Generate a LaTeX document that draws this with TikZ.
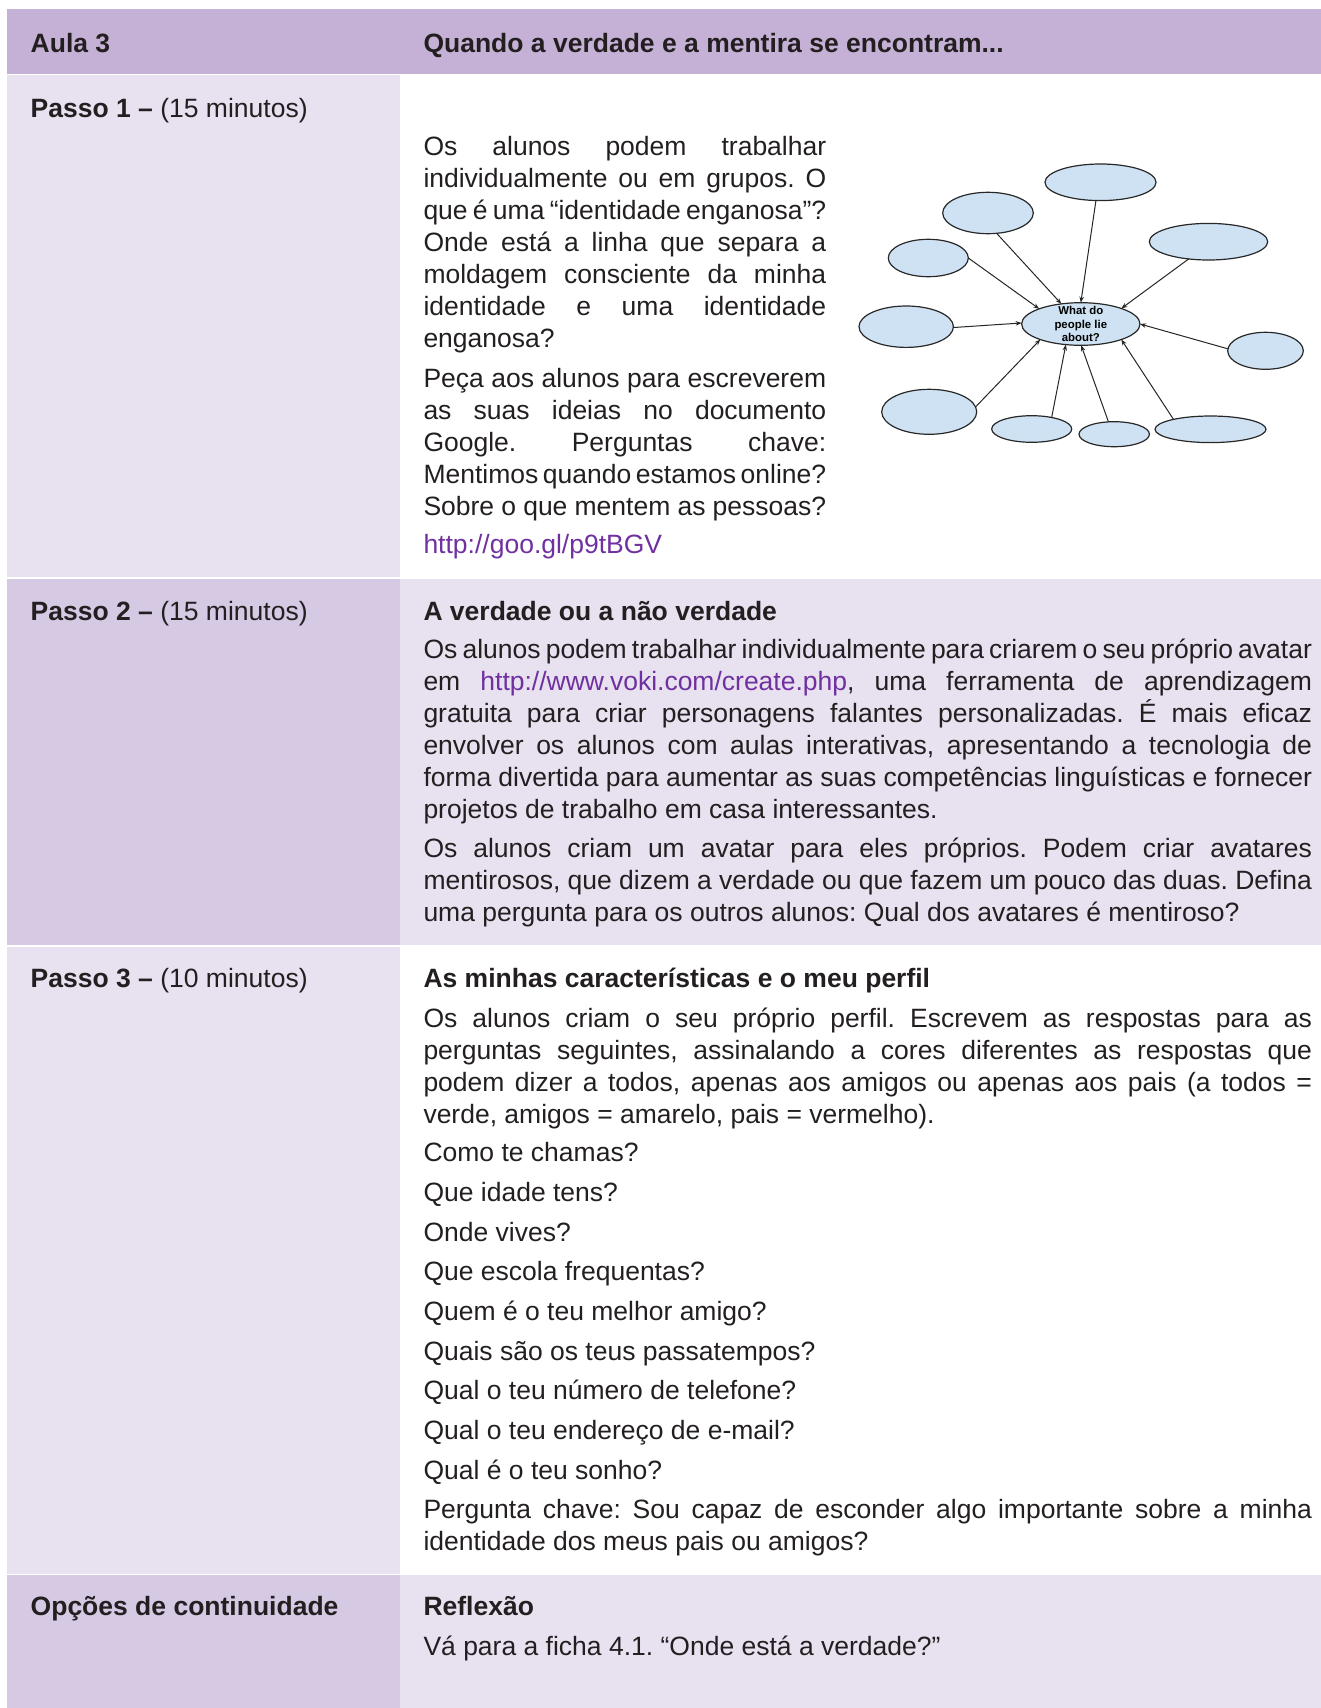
\documentclass[tikz,border=0pt]{standalone}
\usepackage{fontspec}
\setmainfont{Liberation Sans}[WordSpace={1,1,1.7}]
\usetikzlibrary{shapes.geometric,arrows.meta}
\definecolor{hdr}{RGB}{197,177,213}
\definecolor{darkcell}{RGB}{214,201,227}
\definecolor{lightcell}{RGB}{231,225,240}
\definecolor{txt}{RGB}{35,31,32}
\definecolor{lnk}{RGB}{112,48,160}
\definecolor{bub}{RGB}{207,226,243}
\definecolor{bubline}{RGB}{40,40,40}
\newcommand\jl[1]{\makebox[\linewidth][s]{#1}\\}
\newcommand\bodyfont{\fontsize{26.5}{32}\selectfont\frenchspacing}
\begin{document}
\begin{tikzpicture}[x=1pt,y=-1pt,
  every node/.style={inner sep=0pt,outer sep=0pt},
  txtnode/.style={anchor=base west,text=txt,font=\bodyfont},
  bubble/.style={ellipse,draw=bubline,line width=1.2pt,fill=bub},
  arr/.style={draw=black!85,line width=1pt,-{Stealth[length=6pt,width=4.5pt]}}]
\useasboundingbox (0,0) rectangle (1321,1708);
% table backgrounds
\fill[hdr] (7.3,9.3) rectangle (1321,73.5);
\fill[lightcell] (7.3,75) rectangle (400,577);
\fill[darkcell] (7.3,578.5) rectangle (400,945);
\fill[lightcell] (400,578.5) rectangle (1321,945);
\fill[lightcell] (7.3,946.5) rectangle (400,1573.5);
\fill[darkcell] (7.3,1575) rectangle (400,1708);
\fill[lightcell] (400,1575) rectangle (1321,1708);
% header
\node[txtnode] (h1) at (30.7,52.5) {\bfseries Aula 3};
\node[txtnode] (h2) at (423.5,52.5) {\bfseries Quando a verdade e a mentira se encontram...};
% left column
\node[txtnode] (l1) at (30.7,117.3) {\textbf{Passo 1 –} (15 minutos)};
\node[txtnode] (l2) at (30.7,620) {\textbf{Passo 2 –} (15 minutos)};
\node[txtnode] (l3) at (30.7,987.7) {\textbf{Passo 3 –} (10 minutos)};
\node[txtnode] (l4) at (30.7,1615) {\textbf{Opções de continuidade}};
% row 1
\node[txtnode] (p1) at (423.5,155.7) {\parbox[t]{402.7pt}{\bodyfont
\jl{Os alunos podem trabalhar}
\jl{individualmente ou em grupos. O}
\jl{que é uma “identidade enganosa”?}
\jl{Onde está a linha que separa a}
\jl{moldagem consciente da minha}
\jl{identidade e uma identidade}
enganosa?\\[8pt]
\jl{Peça aos alunos para escreverem}
\jl{as suas ideias no documento}
\jl{Google. Perguntas chave:}
\jl{Mentimos quando estamos online?}
Sobre o que mentem as pessoas?\\[6pt]
\textcolor{lnk}{http://goo.gl/p9tBGV}}};
% row 2
\node[txtnode] (p2) at (423.5,620) {\parbox[t]{888.5pt}{\bodyfont
{\bfseries A verdade ou a não verdade}\\[6pt]
\jl{Os alunos podem trabalhar individualmente para criarem o seu próprio avatar}
\jl{em \textcolor{lnk}{http://www.voki.com/create.php}, uma ferramenta de aprendizagem}
\jl{gratuita para criar personagens falantes personalizadas. É mais eficaz}
\jl{envolver os alunos com aulas interativas, apresentando a tecnologia de}
\jl{forma divertida para aumentar as suas competências linguísticas e fornecer}
projetos de trabalho em casa interessantes.\\[7pt]
\jl{Os alunos criam um avatar para eles próprios. Podem criar avatares}
\jl{mentirosos, que dizem a verdade ou que fazem um pouco das duas. Defina}
uma pergunta para os outros alunos: Qual dos avatares é mentiroso?}};
% row 3
\node[txtnode] (p3) at (423.5,987.7) {\parbox[t]{888.5pt}{\bodyfont
{\bfseries As minhas características e o meu perfil}\\[7.6pt]
\jl{Os alunos criam o seu próprio perfil. Escrevem as respostas para as}
\jl{perguntas seguintes, assinalando a cores diferentes as respostas que}
\jl{podem dizer a todos, apenas aos amigos ou apenas aos pais (a todos =}
verde, amigos = amarelo, pais = vermelho).\\[6.3pt]
Como te chamas?\\[7.7pt]
Que idade tens?\\[7.7pt]
Onde vives?\\[7.7pt]
Que escola frequentas?\\[7.7pt]
Quem é o teu melhor amigo?\\[7.7pt]
Quais são os teus passatempos?\\[7.7pt]
Qual o teu número de telefone?\\[7.7pt]
Qual o teu endereço de e-mail?\\[7.7pt]
Qual é o teu sonho?\\[7.7pt]
\jl{Pergunta chave: Sou capaz de esconder algo importante sobre a minha}
identidade dos meus pais ou amigos?}};
% row 4
\node[txtnode] (p4) at (423.5,1615) {\parbox[t]{888.5pt}{\bodyfont
{\bfseries Reflexão}\\[8pt]
Vá para a ficha 4.1. “Onde está a verdade?”}};
% diagram
\node[bubble,minimum width=111pt,minimum height=36.6pt] (e1) at (1100.5,182.3) {};
\node[bubble,minimum width=90.6pt,minimum height=41.4pt] (e2) at (988,213) {};
\node[bubble,minimum width=80pt,minimum height=37.4pt] (e3) at (928.3,258) {};
\node[bubble,minimum width=118.4pt,minimum height=36.6pt] (e4) at (1208.5,241.7) {};
\node[bubble,minimum width=94.4pt,minimum height=41.4pt] (e5) at (906.2,326.7) {};
\node[bubble,minimum width=75.6pt,minimum height=37pt] (e7) at (1265.5,350.8) {};
\node[bubble,minimum width=95pt,minimum height=45pt] (e8) at (929.2,411.8) {};
\node[bubble,minimum width=80pt,minimum height=26.6pt] (e9) at (1031.7,429) {};
\node[bubble,minimum width=70.4pt,minimum height=25pt] (e10) at (1114.2,434.2) {};
\node[bubble,minimum width=111pt,minimum height=26.6pt] (e11) at (1210.5,429.3) {};
\node[bubble,minimum width=118.4pt,minimum height=42.6pt,
  label={[align=center,text=black,font=\fontsize{11.4}{13.7}\selectfont\bfseries]center:What do\\people lie\\about?}] (ctr) at (1080.8,324) {};
\draw[arr] (e1.-104.6) -- (ctr.90);
\draw[arr] (e2.-67.5) -- (ctr.134);
\draw[arr] (e3.0) -- (ctr.160.6);
\draw[arr] (e4.-139.2) -- (ctr.21.4);
\draw[arr] (e5.-1) -- (ctr.179.3);
\draw[arr] (e7.177.7) -- (ctr.0);
\draw[arr] (e8.6.1) -- (ctr.201.4);
\draw[arr] (e9.30.4) -- (ctr.-126.9);
\draw[arr] (e10.115.3) -- (ctr.-89.5);
\draw[arr] (e11.165.5) -- (ctr.-21.1);
\end{tikzpicture}
\end{document}
